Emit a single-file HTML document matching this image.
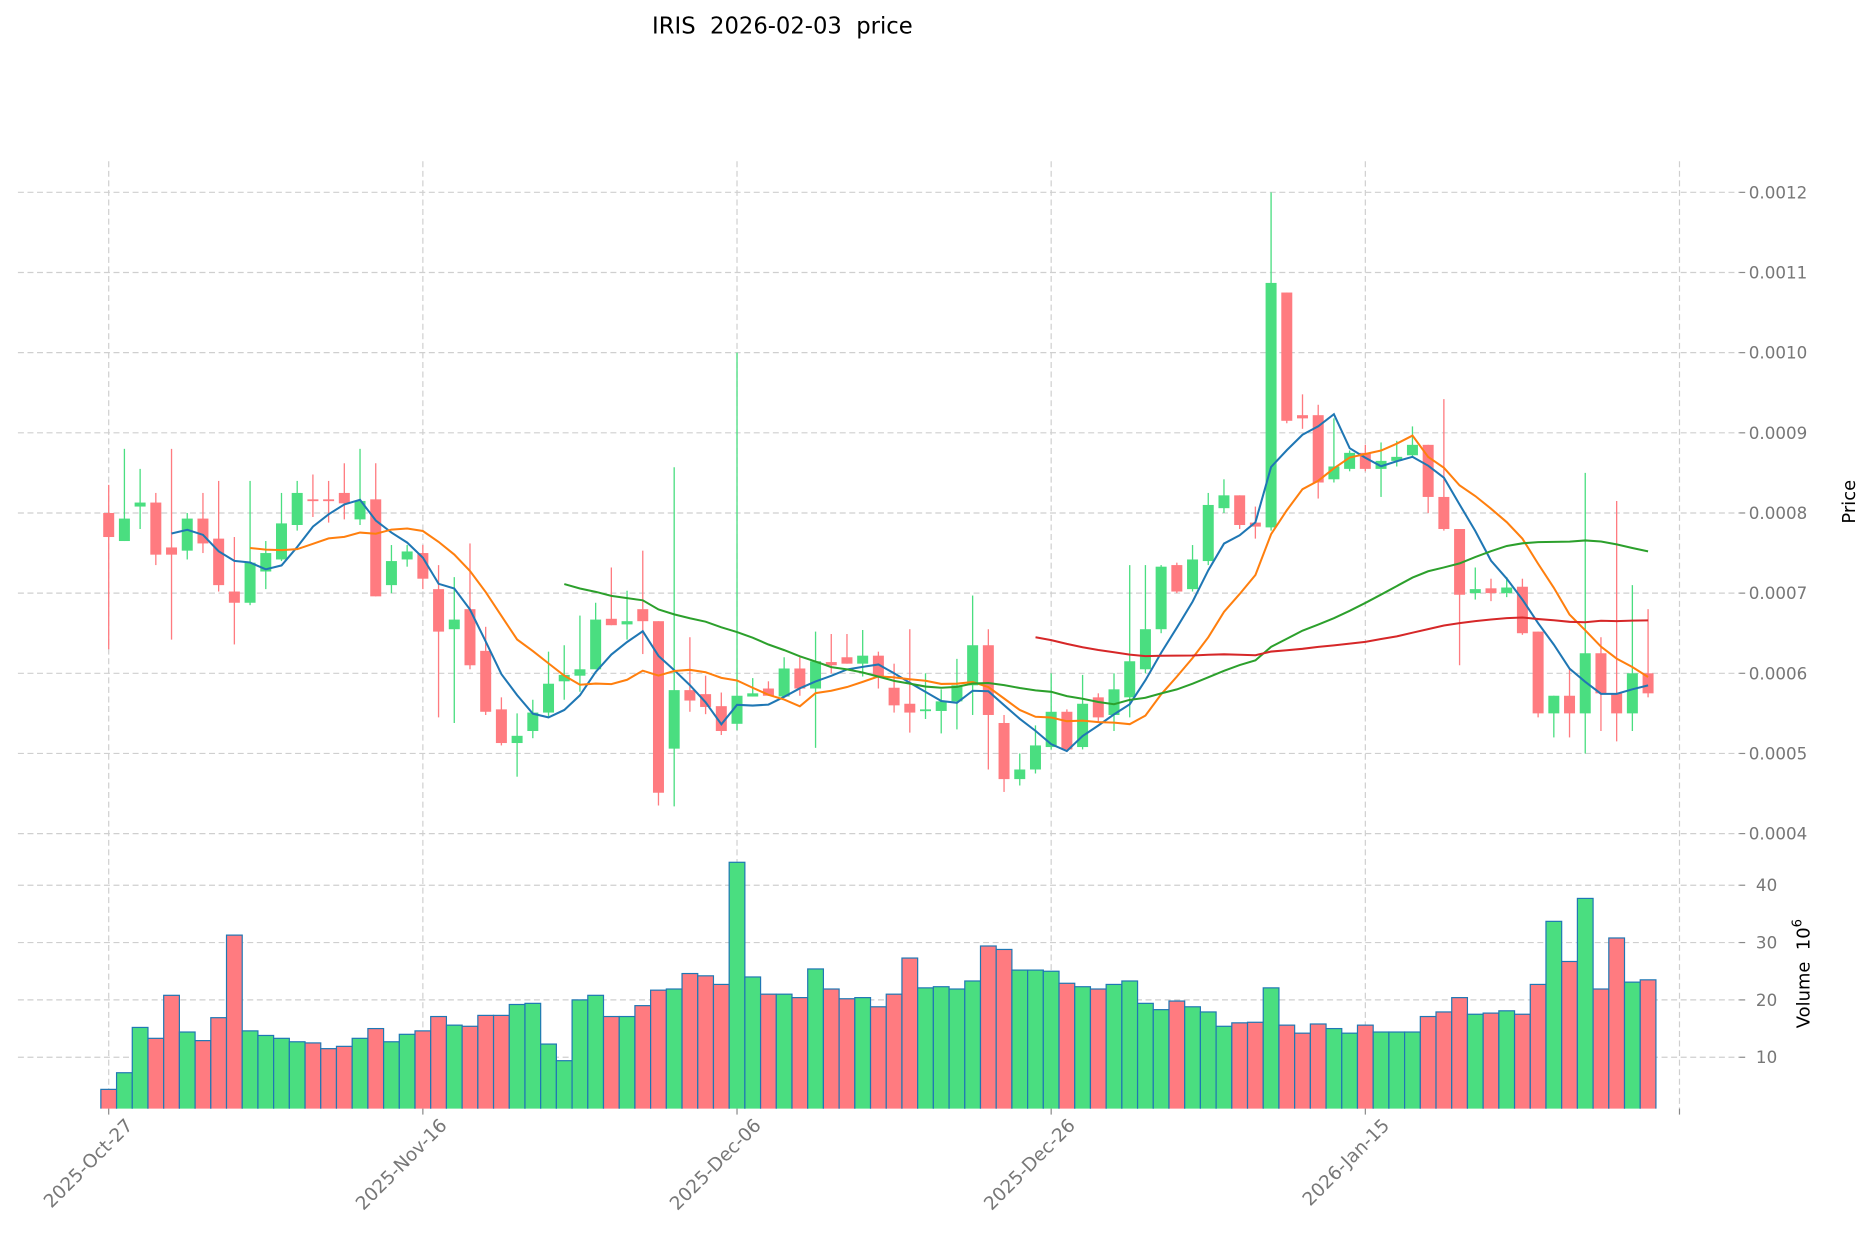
<!DOCTYPE html>
<html><head><meta charset="utf-8"><style>
html,body{margin:0;padding:0;background:#fff;}
svg{display:block;font-family:"DejaVu Sans","Liberation Sans",sans-serif;}
</style></head><body>
<svg id="chart" width="1873" height="1246" viewBox="0 0 1568 1043" preserveAspectRatio="none" xmlns="http://www.w3.org/2000/svg">
<text x="655" y="28" text-anchor="middle" font-size="19" fill="#000" style="white-space:pre" xml:space="preserve">IRIS  2026-02-03  price</text>
<g id="grid"></g>
<g id="vol"></g>
<g id="candles"></g>
<g id="mas"></g>
<g id="axes"></g>
<text transform="translate(1553,420) rotate(-90)" text-anchor="middle" font-size="15" fill="#000">Price</text>
<text transform="translate(1515,815) rotate(-90)" text-anchor="middle" font-size="15" fill="#000" style="white-space:pre" xml:space="preserve">Volume  10<tspan font-size="11" dy="-7">6</tspan></text>
</svg>
<script>
const opens=[0.0008,0.000765,0.000808,0.000813,0.000757,0.000753,0.000793,0.000768,0.000702,0.000688,0.000727,0.000742,0.000785,0.000817,0.000817,0.000825,0.000792,0.000817,0.00071,0.000742,0.00075,0.000705,0.000655,0.00068,0.000628,0.000555,0.000513,0.000528,0.000551,0.00059,0.000597,0.000605,0.000668,0.000661,0.00068,0.000665,0.000506,0.000579,0.000574,0.000559,0.000537,0.000571,0.000581,0.000571,0.000606,0.000581,0.000614,0.00062,0.000612,0.000622,0.000582,0.000562,0.000553,0.000553,0.000565,0.000585,0.000635,0.000538,0.000468,0.00048,0.000508,0.000552,0.000508,0.00057,0.000548,0.00057,0.000605,0.000655,0.000735,0.000705,0.00074,0.000806,0.000822,0.000788,0.000782,0.001075,0.000922,0.000922,0.000842,0.000855,0.000875,0.000855,0.000865,0.000872,0.000885,0.00082,0.00078,0.0007,0.000706,0.0007,0.000708,0.000652,0.00055,0.000572,0.00055,0.000625,0.000575,0.00055,0.0006];
const closes=[0.00077,0.000793,0.000813,0.000748,0.000748,0.000793,0.000762,0.00071,0.000688,0.000738,0.00075,0.000787,0.000825,0.000815,0.000815,0.000812,0.000815,0.000696,0.00074,0.000752,0.000718,0.000652,0.000667,0.00061,0.000552,0.000513,0.000522,0.000551,0.000587,0.000598,0.000605,0.000667,0.00066,0.000665,0.000665,0.000451,0.000579,0.000566,0.000558,0.000528,0.000572,0.000575,0.000572,0.000606,0.000581,0.000615,0.00061,0.000612,0.000622,0.000596,0.00056,0.000551,0.000555,0.000565,0.000585,0.000635,0.000548,0.000468,0.00048,0.00051,0.000552,0.000505,0.000562,0.000545,0.00058,0.000615,0.000655,0.000733,0.000702,0.000742,0.00081,0.000822,0.000785,0.000783,0.001087,0.000915,0.000918,0.000838,0.000858,0.000875,0.000855,0.000865,0.00087,0.000885,0.00082,0.00078,0.000698,0.000705,0.0007,0.000707,0.00065,0.00055,0.000572,0.00055,0.000625,0.000575,0.00055,0.0006,0.000575];
const highs=[0.000835,0.00088,0.000855,0.000825,0.00088,0.0008,0.000825,0.00084,0.00077,0.00084,0.000765,0.000825,0.00084,0.000848,0.00084,0.000862,0.00088,0.000862,0.00076,0.00076,0.00076,0.000735,0.00072,0.000762,0.000658,0.00057,0.00055,0.000567,0.000627,0.000635,0.000672,0.000688,0.000732,0.000703,0.000753,0.000665,0.000857,0.000645,0.000597,0.000576,0.001,0.000594,0.00059,0.00062,0.00062,0.000652,0.000649,0.000649,0.000654,0.000627,0.000612,0.000655,0.0006,0.00058,0.000618,0.000697,0.000655,0.000548,0.0005,0.000535,0.0006,0.000555,0.000598,0.000575,0.0006,0.000735,0.000735,0.000735,0.000738,0.00076,0.000825,0.000842,0.000822,0.000808,0.0012,0.001075,0.000948,0.000935,0.000918,0.000878,0.000885,0.000888,0.00089,0.000908,0.000885,0.000942,0.00078,0.000732,0.000718,0.00072,0.000718,0.000652,0.000572,0.000605,0.00085,0.000645,0.000815,0.00071,0.00068];
const lows=[0.00063,0.000765,0.00078,0.000735,0.000642,0.000742,0.00075,0.000702,0.000636,0.000685,0.000705,0.00074,0.000778,0.000795,0.000788,0.000792,0.000785,0.000696,0.0007,0.000733,0.000705,0.000545,0.000538,0.000605,0.000548,0.00051,0.000471,0.000519,0.000546,0.000567,0.000577,0.000605,0.00066,0.000642,0.000624,0.000435,0.000434,0.000552,0.000549,0.000523,0.000529,0.000571,0.000572,0.000571,0.000572,0.000507,0.0006,0.000612,0.000596,0.000581,0.000551,0.000526,0.000543,0.000525,0.00053,0.000548,0.00048,0.000452,0.00046,0.000475,0.000505,0.000502,0.000505,0.00054,0.000528,0.000545,0.0006,0.00065,0.0007,0.000702,0.000735,0.0008,0.00078,0.000768,0.000778,0.000912,0.000905,0.000818,0.000838,0.000852,0.000852,0.00082,0.000858,0.00087,0.0008,0.000778,0.00061,0.000692,0.00069,0.000695,0.000648,0.000545,0.00052,0.00052,0.0005,0.000528,0.000515,0.000528,0.00057];
const volumes=[4.4,7.3,15.2,13.3,20.8,14.4,12.9,16.9,31.3,14.6,13.8,13.3,12.7,12.5,11.5,11.9,13.3,15,12.7,14,14.6,17.1,15.6,15.4,17.3,17.3,19.2,19.4,12.3,9.4,20,20.8,17.1,17.1,19,21.7,21.9,24.6,24.2,22.7,44,24,21,21,20.4,25.4,21.9,20.2,20.4,18.8,21,27.3,22.1,22.3,21.9,23.3,29.4,28.8,25.2,25.2,25,22.9,22.3,21.9,22.7,23.3,19.4,18.3,19.8,18.8,17.9,15.4,16,16.1,22.1,15.6,14.2,15.8,15,14.2,15.6,14.4,14.4,14.4,17.1,17.9,20.4,17.5,17.7,18.1,17.5,22.7,33.7,26.7,37.7,21.9,30.8,23.1,23.5];
const dateTicks=["2025-Oct-27","2025-Nov-16","2025-Dec-06","2025-Dec-26","2026-Jan-15"];
const dateTickIdx=[0,20,40,60,80];
const priceTicks=[0.0004,0.0005,0.0006,0.0007,0.0008,0.0009,0.0010,0.0011,0.0012];
const volTicks=[10,20,30,40];
const maWindows=[5,10,30,60];
const maColors=["#1f77b4","#ff7f0e","#2ca02c","#d62728"];

const NS="http://www.w3.org/2000/svg";
const X0=91,DX=13.15;
const xs=i=>X0+DX*i;
const yp=p=>161+(0.0012-p)/0.0001*67.1;
const yv=v=>933-v*4.8;
const L=15,R=1456,TOP=135,PB=700,VB=928;
const UP="#4ade80",DN="#ff7b80";
function mk(t,a,parent){const e=document.createElementNS(NS,t);for(const k in a)e.setAttribute(k,a[k]);parent.appendChild(e);return e;}
const grid=document.getElementById('grid'),axes=document.getElementById('axes');
const defs=mk('defs',{},document.getElementById('chart'));
const cp=mk('clipPath',{id:'vclip'},defs);mk('rect',{x:L,y:TOP,width:R-L,height:VB-TOP},cp);
dateTickIdx.forEach((d,k)=>{
  const x=xs(d);
  const g=mk('line',{x1:x,x2:x,y1:TOP,y2:VB,stroke:'#cfcfcf','stroke-dasharray':'5,3','stroke-width':1},grid);
  
  
  mk('line',{x1:x,x2:x,y1:VB,y2:VB+5,stroke:'#888'},axes);
  const t=mk('text',{transform:`translate(${x+21},${VB+15}) rotate(-45)`,'text-anchor':'end','font-size':15.5,fill:'#777'},axes);
  t.textContent=dateTicks[k];
  
  
});
mk('line',{x1:1406,x2:1406,y1:TOP,y2:VB,stroke:'#cfcfcf','stroke-dasharray':'5,3'},grid);
mk('line',{x1:1406,x2:1406,y1:VB,y2:VB+5,stroke:'#888'},axes);
priceTicks.forEach(p=>{
  const y=yp(p);
  const g=mk('line',{x1:L,x2:R,y1:y,y2:y,stroke:'#cfcfcf','stroke-dasharray':'5,3'},grid);
  
  
  mk('line',{x1:R,x2:R+5,y1:y,y2:y,stroke:'#888'},axes);
  const t=mk('text',{x:R+8,y:y+5,'font-size':14,fill:'#777'},axes);
  t.textContent=p.toFixed(4);
  
  
});
volTicks.forEach(v=>{
  const y=yv(v);
  const g=mk('line',{x1:L,x2:R,y1:y,y2:y,stroke:'#cfcfcf','stroke-dasharray':'5,3'},grid);
  
  
  mk('line',{x1:R,x2:R+5,y1:y,y2:y,stroke:'#888'},axes);
  const t=mk('text',{x:1470,y:y+5,'font-size':14,fill:'#777'},axes);
  t.textContent=v;
  
  
});
const vol=document.getElementById('vol');vol.setAttribute('clip-path','url(#vclip)');
volumes.forEach((v,i)=>{
  const up=closes[i]>=opens[i];
  const r=mk('rect',{x:xs(i)-DX/2,y:yv(v),width:DX,height:933-yv(v),fill:up?UP:DN,stroke:'#1f77b4','stroke-width':1},vol);
  
  
});
const cg=document.getElementById('candles');
opens.forEach((o,i)=>{
  const c=closes[i],up=c>=o,col=up?UP:DN,x=xs(i);
  const w=mk('line',{x1:x,x2:x,y1:yp(highs[i]),y2:yp(lows[i]),stroke:col,'stroke-width':1.1},cg);
  
  
  const top=yp(Math.max(o,c)),h=Math.max(1.5,Math.abs(yp(o)-yp(c)));
  const b=mk('rect',{x:x-4.6,y:top,width:9.2,height:h,fill:col},cg);
  
  
});
const mg=document.getElementById('mas');
maWindows.forEach((n,k)=>{
  const pts=[];
  for(let i=n-1;i<closes.length;i++){let s=0;for(let j=i-n+1;j<=i;j++)s+=closes[j];pts.push(xs(i).toFixed(1)+','+yp(s/n).toFixed(1));}
  const pl=mk('polyline',{points:pts.join(' '),fill:'none',stroke:maColors[k],'stroke-width':1.7},mg);
  
  
});
</script>
</body></html>
